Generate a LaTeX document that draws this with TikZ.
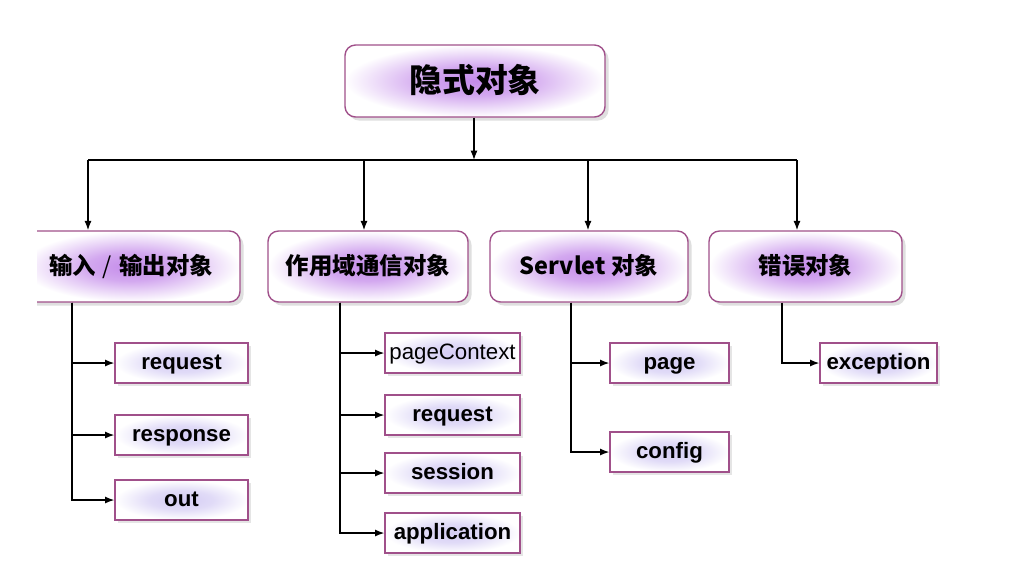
\documentclass[tikz,border=0pt]{standalone}
\usepackage{fontspec}
\setmainfont{Liberation Sans}
\newfontfamily\cjk{Noto Sans CJK SC}
\usetikzlibrary{arrows.meta,shadows}
\definecolor{boxline}{HTML}{A0508A}
\definecolor{glow}{HTML}{C48BEA}
\definecolor{leafglow}{HTML}{D4CCF4}
\newlength\pxu
\setlength\pxu{0.03cm}
\pgfdeclareradialshading{groupglow}{\pgfpoint{0bp}{0bp}}{color(0bp)=(glow); color(10bp)=(glow!75!white); color(20bp)=(glow!25!white); color(25bp)=(white); color(50bp)=(white)}
\pgfdeclareradialshading{leafshade}{\pgfpoint{0bp}{0bp}}{color(0bp)=(leafglow); color(12bp)=(leafglow!70!white); color(25bp)=(white); color(50bp)=(white)}

\begin{document}
\begin{tikzpicture}[x=0.03cm,y=-0.03cm,
    every node/.style={inner sep=0pt},
    groupbox/.style={draw=boxline, line width=1.2pt, rounded corners=9pt, fill=white,
        drop shadow={shadow xshift=3pt, shadow yshift=-3pt, fill=black!25},
        path picture={\shade[shading=groupglow]
            (path picture bounding box.center) ellipse (0.5*\pgfkeysvalueof{/pgf/minimum width} and 0.5*\pgfkeysvalueof{/pgf/minimum height});},
        font=\cjk\bfseries\fontsize{20pt}{22pt}\selectfont, minimum height=71\pxu,
        text height=17pt, text depth=3pt},
    leafbox/.style={draw=boxline, line width=1pt, fill=white, minimum height=40\pxu,
        drop shadow={shadow xshift=2.5pt, shadow yshift=-2.5pt, fill=black!20},
        path picture={\shade[shading=leafshade]
            (path picture bounding box.center) ellipse (0.5*\pgfkeysvalueof{/pgf/minimum width} and 0.5*\pgfkeysvalueof{/pgf/minimum height});},
        font=\bfseries\fontsize{19pt}{21pt}\selectfont,
        text height=13.7pt, text depth=3.4pt},
    link/.style={-{Latex[length=8pt,width=6pt]}, line width=1.2pt}
  ]
  \useasboundingbox (0,0) rectangle (1022,577);
  \begin{scope}
  \clip (37,0) rectangle (1022,577);
  % root
  \node[groupbox, minimum width=260\pxu, minimum height=72\pxu,
        font=\cjk\bfseries\fontsize{28pt}{30pt}\selectfont,
        text height=24pt, text depth=4pt] (root) at (475,81) {隐式对象};
  % second level
  \node[groupbox, minimum width=218\pxu] (io)      at (131,266.5) {输入\hspace{0.3em}{\mdseries /}\hspace{0.3em}输出对象};
  \node[groupbox, minimum width=200\pxu] (scope)   at (368,266.5) {作用域通信对象};
  \node[groupbox, minimum width=198\pxu] (servlet) at (589,266.5) {{\bfseries Servlet} 对象};
  \node[groupbox, minimum width=193\pxu] (error)   at (805.5,266.5) {错误对象};
  % leaves
  \node[leafbox, minimum width=133\pxu] (ioreq)  at (181.5,363) {request};
  \node[leafbox, minimum width=133\pxu] (iores)  at (181.5,435) {response};
  \node[leafbox, minimum width=133\pxu] (ioout)  at (181.5,500) {out};
  \node[leafbox, minimum width=135\pxu, font=\fontsize{19pt}{21pt}\selectfont] (scpage) at (452.5,353) {pageContext};
  \node[leafbox, minimum width=135\pxu] (screq)  at (452.5,415) {request};
  \node[leafbox, minimum width=135\pxu] (scses)  at (452.5,473) {session};
  \node[leafbox, minimum width=135\pxu] (scapp)  at (452.5,533) {application};
  \node[leafbox, minimum width=119\pxu] (svpage) at (669.5,363) {page};
  \node[leafbox, minimum width=119\pxu] (svconf) at (669.5,452) {config};
  \node[leafbox, minimum width=117\pxu] (erexc)  at (878.5,363) {exception};
  % top connectors
  \coordinate (bar) at (474,160);
  \coordinate (d1) at (88,160);
  \coordinate (d2) at (364,160);
  \coordinate (d3) at (588,160);
  \coordinate (d4) at (797,160);
  \draw[link] (root.south -| bar) -- (bar);
  \draw[line width=1.2pt] (d1) -- (d4);
  \draw[link] (d1) -- (d1 |- io.north);
  \draw[link] (d2) -- (d2 |- scope.north);
  \draw[link] (d3) -- (d3 |- servlet.north);
  \draw[link] (d4) -- (d4 |- error.north);
  % trunks to the leaves
  \coordinate (t1) at (72,0);
  \coordinate (t2) at (340,0);
  \coordinate (t3) at (571,0);
  \coordinate (t4) at (782,0);
  \foreach \leaf in {ioreq,iores,ioout}
    \draw[link] (io.south -| t1) |- (\leaf.west);
  \foreach \leaf in {scpage,screq,scses,scapp}
    \draw[link] (scope.south -| t2) |- (\leaf.west);
  \foreach \leaf in {svpage,svconf}
    \draw[link] (servlet.south -| t3) |- (\leaf.west);
  \draw[link] (error.south -| t4) |- (erexc.west);
  \end{scope}
\end{tikzpicture}
\end{document}
